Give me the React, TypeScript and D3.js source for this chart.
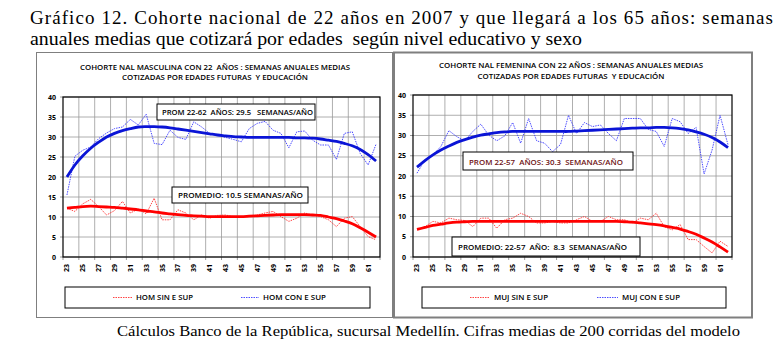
import React from 'react';
import * as d3 from 'd3';

// ---------- DATA ----------
const ages = [23,24,25,26,27,28,29,30,31,32,33,34,35,36,37,38,39,40,41,42,43,44,45,46,47,48,49,50,51,52,53,54,55,56,57,58,59,60,61,62];
const xTickLabels = ['23','25','27','29','31','33','35','37','39','41','43','45','47','49','51','53','55','57','59','61'];
const yTicks = [0,5,10,15,20,25,30,35,40];

// Men
const homConESup = [15.5,25.2,26.7,27.5,29.6,31.0,32.1,32.5,34.4,33.0,35.7,28.4,28.1,31.7,29.9,29.4,33.8,32.5,30.9,30.5,29.9,29.4,28.8,32.1,33.4,33.9,31.7,30.9,27.3,31.3,31.5,29.2,28.0,28.0,24.4,30.9,31.3,25.9,23.0,28.2];
const homConESupTrend = [20.0,23.0,25.3,27.2,28.7,30.0,30.9,31.6,32.1,32.5,32.6,32.6,32.5,32.3,32.0,31.7,31.4,31.1,30.8,30.5,30.3,30.1,30.0,29.9,29.9,29.9,29.9,29.9,29.9,29.8,29.8,29.7,29.5,29.2,28.9,28.4,27.8,26.9,25.6,24.0];
const homSinESup = [12.2,11.4,13.3,14.4,12.6,10.5,11.6,13.9,11.0,12.0,10.8,14.7,9.3,9.3,11.8,11.0,9.3,10.5,9.7,10.4,10.5,10.1,10.1,10.1,10.5,11.0,11.4,10.1,8.9,9.7,11.0,10.5,10.1,9.3,7.6,9.7,10.1,7.6,5.1,4.3];
const homSinESupTrend = [12.2,12.4,12.6,12.7,12.6,12.5,12.4,12.2,12.0,11.8,11.5,11.3,11.0,10.8,10.6,10.4,10.3,10.2,10.1,10.1,10.1,10.1,10.1,10.2,10.3,10.4,10.5,10.6,10.6,10.6,10.6,10.5,10.4,10.0,9.6,9.0,8.3,7.3,6.2,5.0];

// Women
const mujConESup = [20.7,24.0,25.2,27.3,31.2,29.7,28.7,31.0,32.8,30.1,28.7,29.9,33.2,28.1,34.2,28.7,28.1,26.0,27.8,35.0,30.5,33.2,32.2,32.6,30.5,28.7,34.2,34.2,34.2,31.5,31.0,27.3,34.2,33.4,30.5,32.0,20.5,26.4,35.0,27.7];
const mujConESupTrend = [22.2,23.8,25.2,26.4,27.4,28.3,29.0,29.6,30.1,30.4,30.7,30.9,31.0,31.0,31.0,31.0,31.0,31.0,31.0,31.0,31.1,31.2,31.3,31.4,31.5,31.6,31.7,31.8,31.9,31.9,32.0,32.0,31.9,31.7,31.4,30.9,30.3,29.5,28.4,27.0];
const mujSinESup = [6.7,7.5,8.8,8.4,9.6,9.2,9.0,7.5,9.6,9.6,7.1,9.2,9.6,10.8,10.0,8.4,8.4,8.8,8.4,8.4,9.2,10.0,8.8,8.8,10.0,9.2,9.2,8.4,9.6,9.2,10.8,7.5,6.7,8.0,4.3,4.3,2.6,1.0,3.9,2.6];
const mujSinESupTrend = [6.8,7.3,7.8,8.1,8.4,8.6,8.7,8.8,8.8,8.8,8.8,8.8,8.8,8.8,8.8,8.8,8.8,8.8,8.8,8.8,8.8,8.8,8.8,8.8,8.8,8.8,8.7,8.6,8.4,8.2,8.0,7.7,7.3,6.9,6.3,5.6,4.7,3.7,2.5,1.2];

const mainTitle1 = 'Gráfico 12. Cohorte nacional de 22 años en 2007 y que llegará a los 65 años: semanas';
const mainTitle2 = 'anuales medias que cotizará por edades  según nivel educativo y sexo';
const caption = 'Cálculos Banco de la República, sucursal Medellín. Cifras medias de 200 corridas del modelo';

// ---------- PANEL ----------
type Ann = { text: string; bx: number; by: number; bw: number; bh: number; tx: number; ty: number; tw: number; color: string };
type PanelCfg = {
  frame: { x: number; y: number; w: number; h: number; sw: number };
  plot: { l: number; r: number; t: number; b: number };
  title: { cx: number; y1: number; y2: number; w1: number; w2: number; t1: string; t2: string };
  blue: number[]; blueTrend: number[]; red: number[]; redTrend: number[];
  anns: Ann[];
  legend: { x: number; y: number; w: number; h: number; items: { label: string; color: string; lx: number; tx: number; tw: number }[] };
};

const FONT = '"Open Sans", "Liberation Sans", Arial, sans-serif';
const SERIF = '"Liberation Serif", "Times New Roman", serif';
const pre = { whiteSpace: 'pre' as const };

function Panel({ cfg }: { cfg: PanelCfg }) {
  const { plot, frame, title, legend } = cfg;
  const x = d3.scaleLinear().domain([ages[0] - 0.5, ages[ages.length - 1] + 0.5]).range([plot.l, plot.r]);
  const y = d3.scaleLinear().domain([0, 40]).range([plot.b, plot.t]);
  const thin = d3.line<number>().x((_, i) => x(ages[i])).y(d => y(d));
  const smooth = d3.line<number>().x((_, i) => x(ages[i])).y(d => y(d)).curve(d3.curveCatmullRom.alpha(0.5));
  const gridX = d3.range(2, 40, 2).map(k => ages[0] - 0.5 + k);
  const tickX = d3.range(0, 41, 2).map(k => ages[0] - 0.5 + k);
  return (
    <g>
      <rect x={frame.x} y={frame.y} width={frame.w} height={frame.h} fill="#fff" stroke="#7f7f7f" strokeWidth={frame.sw} />
      <text x={title.cx} y={title.y1} textAnchor="middle" fontFamily={FONT} fontWeight={600} fontSize={7.6} textLength={title.w1} lengthAdjust="spacingAndGlyphs" style={pre}>{title.t1}</text>
      <text x={title.cx} y={title.y2} textAnchor="middle" fontFamily={FONT} fontWeight={600} fontSize={7.6} textLength={title.w2} lengthAdjust="spacingAndGlyphs" style={pre}>{title.t2}</text>
      {yTicks.map(t => (
        <line key={'gy' + t} x1={plot.l} x2={plot.r} y1={y(t)} y2={y(t)} stroke="#9a9a9a" strokeWidth={0.8} />
      ))}
      {gridX.map(g => (
        <line key={'gx' + g} x1={x(g)} x2={x(g)} y1={plot.t} y2={plot.b} stroke="#9a9a9a" strokeWidth={0.8} />
      ))}
      {tickX.map(g => (
        <line key={'tx' + g} x1={x(g)} x2={x(g)} y1={plot.b} y2={plot.b + 3} stroke="#7f7f7f" strokeWidth={0.8} />
      ))}
      {yTicks.map(t => (
        <line key={'ty' + t} x1={plot.l - 3} x2={plot.l} y1={y(t)} y2={y(t)} stroke="#7f7f7f" strokeWidth={0.8} />
      ))}
      <rect x={plot.l} y={plot.t} width={plot.r - plot.l} height={plot.b - plot.t} fill="none" stroke="#000" strokeWidth={1.2} />
      {yTicks.map(t => (
        <text key={'yl' + t} x={plot.l - 7} y={y(t) + 2.5} textAnchor="end" fontFamily={FONT} fontSize={7} fontWeight="bold">{t}</text>
      ))}
      {xTickLabels.map(l => (
        <text key={'xl' + l} transform={`translate(${x(+l) + 2.5},${plot.b + 7}) rotate(-90)`} textAnchor="end" fontFamily={FONT} fontSize={7} fontWeight="bold">{l}</text>
      ))}
      <path d={thin(cfg.blue) || ''} fill="none" stroke="#3a3aff" strokeWidth={0.9} strokeDasharray="1.5,1" />
      <path d={thin(cfg.red) || ''} fill="none" stroke="#ff3030" strokeWidth={0.9} strokeDasharray="1.5,1" />
      <path d={smooth(cfg.blueTrend) || ''} fill="none" stroke="#0a14d6" strokeWidth={2.8} />
      <path d={smooth(cfg.redTrend) || ''} fill="none" stroke="#ff0000" strokeWidth={2.8} />
      {cfg.anns.map((a, i) => (
        <g key={'a' + i}>
          <rect x={a.bx} y={a.by} width={a.bw} height={a.bh} fill="#fff" stroke="#000" strokeWidth={1} />
          <text x={a.tx} y={a.ty} fontFamily={FONT} fontWeight={600} fontSize={7.6} fill={a.color} textLength={a.tw} lengthAdjust="spacingAndGlyphs" style={pre}>{a.text}</text>
        </g>
      ))}
      <rect x={legend.x} y={legend.y} width={legend.w} height={legend.h} fill="#fff" stroke="#000" strokeWidth={1} />
      {legend.items.map((it, i) => (
        <g key={'l' + i}>
          <line x1={it.lx} x2={it.tx - 4} y1={legend.y + legend.h / 2} y2={legend.y + legend.h / 2} stroke={it.color} strokeWidth={0.9} strokeDasharray="1.5,1" />
          <text x={it.tx} y={legend.y + legend.h / 2 + 2.8} fontFamily={FONT} fontWeight={600} fontSize={7.6} textLength={it.tw} lengthAdjust="spacingAndGlyphs">{it.label}</text>
        </g>
      ))}
    </g>
  );
}

const leftCfg: PanelCfg = {
  frame: { x: 36.5, y: 52.5, w: 356, h: 265, sw: 1 },
  plot: { l: 63, r: 380, t: 97, b: 257 },
  title: { cx: 215, y1: 70, y2: 80, w1: 270, w2: 186, t1: 'COHORTE NAL MASCULINA CON 22  AÑOS : SEMANAS ANUALES MEDIAS', t2: 'COTIZADAS POR EDADES FUTURAS  Y EDUCACIÓN' },
  blue: homConESup, blueTrend: homConESupTrend, red: homSinESup, redTrend: homSinESupTrend,
  anns: [
    { text: 'PROM 22-62  AÑOS: 29.5   SEMANAS/AÑO', bx: 157, by: 104, bw: 158, bh: 16, tx: 162, ty: 115, tw: 151, color: '#000' },
    { text: 'PROMEDIO: 10.5 SEMANAS/AÑO', bx: 172, by: 187, bw: 136, bh: 16, tx: 178, ty: 198, tw: 125, color: '#000' },
  ],
  legend: { x: 65, y: 287, w: 305, h: 21, items: [
    { label: 'HOM SIN E SUP', color: '#ff3030', lx: 113, tx: 136, tw: 57 },
    { label: 'HOM CON E SUP', color: '#3a3aff', lx: 241, tx: 263, tw: 63 },
  ] },
};

const rightCfg: PanelCfg = {
  frame: { x: 394, y: 52.5, w: 358, h: 265, sw: 2 },
  plot: { l: 413, r: 732, t: 95, b: 257 },
  title: { cx: 571, y1: 68, y2: 79, w1: 264, w2: 187, t1: 'COHORTE NAL FEMENINA CON 22 AÑOS : SEMANAS ANUALES MEDIAS', t2: 'COTIZADAS POR EDADES FUTURAS  Y EDUCACIÓN' },
  blue: mujConESup, blueTrend: mujConESupTrend, red: mujSinESup, redTrend: mujSinESupTrend,
  anns: [
    { text: 'PROM 22-57  AÑOS: 30.3  SEMANAS/AÑO', bx: 463, by: 152, bw: 170, bh: 18, tx: 469, ty: 164.5, tw: 154, color: '#6e1414' },
    { text: 'PROMEDIO: 22-57  AÑO:  8.3  SEMANAS/AÑO', bx: 452, by: 237, bw: 188, bh: 19, tx: 458, ty: 249.5, tw: 169, color: '#000' },
  ],
  legend: { x: 422, y: 287, w: 304, h: 21, items: [
    { label: 'MUJ SIN E SUP', color: '#ff3030', lx: 470, tx: 494, tw: 54 },
    { label: 'MUJ CON E SUP', color: '#3a3aff', lx: 597, tx: 622, tw: 58 },
  ] },
};

export default function App() {
  return (
    <svg width={778} height={354} style={{ position: 'absolute', left: 0, top: 0, background: '#fff' }}>
      <rect x={0} y={0} width={778} height={354} fill="#fff" />
      <text x={30} y={24} fontFamily={SERIF} fontSize={19} textLength={743} lengthAdjust="spacing" style={pre}>{mainTitle1}</text>
      <text x={30} y={45} fontFamily={SERIF} fontSize={19} textLength={552} lengthAdjust="spacingAndGlyphs" style={pre}>{mainTitle2}</text>
      <Panel cfg={leftCfg} />
      <Panel cfg={rightCfg} />
      <text x={117} y={336} fontFamily={SERIF} fontSize={15.5} textLength={623} lengthAdjust="spacingAndGlyphs" style={pre}>{caption}</text>
    </svg>
  );
}
